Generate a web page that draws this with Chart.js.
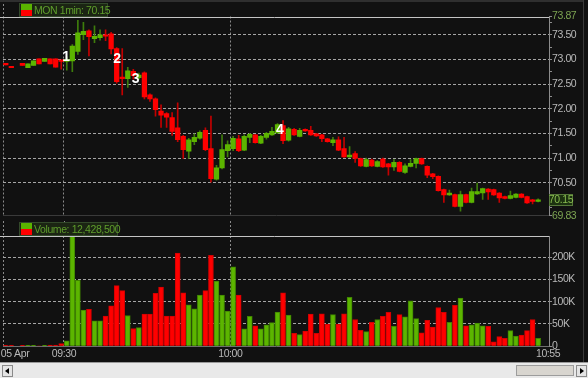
<!DOCTYPE html>
<html><head><meta charset="utf-8">
<script src="https://cdn.jsdelivr.net/npm/chart.js@4.4.1/dist/chart.umd.min.js"></script>
<style>
html,body{margin:0;padding:0;background:#111;}
#wrap{position:relative;width:588px;height:378px;overflow:hidden;background:#111;font-family:"Liberation Sans",Arial,sans-serif;}
canvas{position:absolute;left:0;}
#pc{top:0;}
#vc{top:221px;}
.leg{position:absolute;height:12px;background:#1b2513;border:1px solid #33492a;color:#5f9e2c;font-size:10.5px;letter-spacing:-0.4px;line-height:12px;white-space:nowrap;}
.leg i{position:absolute;left:1px;top:0;width:11px;height:12px;background:linear-gradient(#5ab400 0,#5ab400 50%,#ff0000 50%,#ff0000 100%);}
.leg span{position:absolute;left:14px;top:0;}
#topline{position:absolute;left:0;top:0;width:584px;height:2px;background:#2f2f2f;}
#rightline{position:absolute;left:583px;top:0;width:1px;height:362px;background:#3a3a3a;}
#track{position:absolute;left:0;top:362px;width:588px;height:16px;background:#e9e9e9;border-top:1px solid #9a9a9a;box-sizing:border-box;}
.btn{position:absolute;top:365px;width:9px;height:10px;background:#e4e4e4;border:1px solid #8a8a8a;}
#lb{left:2px;}
#rb{left:576px;}
.btn b{position:absolute;top:2px;width:0;height:0;border-top:3px solid transparent;border-bottom:3px solid transparent;}
#lb b{left:2px;border-right:4px solid #000;}
#rb b{left:3px;border-left:4px solid #000;}
#thumb{position:absolute;left:516px;top:365px;width:56px;height:9px;background:#d8d5cf;border:1px solid #9c9c9c;}
</style></head>
<body>
<div id="wrap">
  <canvas id="pc" width="588" height="222"></canvas>
  <canvas id="vc" width="588" height="141"></canvas>
  <div id="topline"></div>
  <div id="rightline"></div>
  <div class="leg" id="pleg" style="left:19px;top:3px;width:87px;"><i></i><span id="plegt"></span></div>
  <div class="leg" id="vleg" style="left:19px;top:222px;width:97px;"><i></i><span id="vlegt"></span></div>
  <div id="track"></div>
  <div class="btn" id="lb"><b></b></div>
  <div id="thumb"></div>
  <div class="btn" id="rb"><b></b></div>
</div>
<script>
// ---------------- DATA ----------------
const symbol = 'MON';
const interval = '1min';
const totalVolumeText = '12,428,500';
const times = [
 '09:19','09:20','09:21','09:22','09:23','09:24','09:25','09:26','09:27','09:28','09:29',
 '09:30','09:31','09:32','09:33','09:34','09:35','09:36','09:37','09:38','09:39',
 '09:40','09:41','09:42','09:43','09:44','09:45','09:46','09:47','09:48','09:49',
 '09:50','09:51','09:52','09:53','09:54','09:55','09:56','09:57','09:58','09:59',
 '10:00','10:01','10:02','10:03','10:04','10:05','10:06','10:07','10:08','10:09',
 '10:10','10:11','10:12','10:13','10:14','10:15','10:16','10:17','10:18','10:19',
 '10:20','10:21','10:22','10:23','10:24','10:25','10:26','10:27','10:28','10:29',
 '10:30','10:31','10:32','10:33','10:34','10:35','10:36','10:37','10:38','10:39',
 '10:40','10:41','10:42','10:43','10:44','10:45','10:46','10:47','10:48','10:49',
 '10:50','10:51','10:52','10:53','10:54','10:55'
];
const opens = [
 72.90,72.84,null,72.92,72.83,72.88,73.01,72.96,73.01,73.01,72.97,
 72.96,72.97,73.16,73.50,73.58,73.42,73.44,73.49,73.52,73.22,
 72.63,72.61,72.76,72.63,72.73,72.28,72.20,71.95,71.90,71.82,
 71.61,71.44,71.14,71.33,71.40,71.56,71.19,70.57,70.80,71.15,
 71.19,71.39,71.16,71.42,71.47,71.30,71.42,71.47,71.51,71.66,
 71.36,71.58,71.44,71.58,71.56,71.49,71.47,71.39,71.31,71.37,
 71.19,71.02,71.09,70.99,70.83,70.96,70.83,70.98,70.88,70.82,
 70.91,70.71,70.83,70.89,70.99,70.83,70.68,70.63,70.36,70.25,
 70.26,70.02,70.26,70.10,70.27,70.29,70.37,70.36,70.29,70.22,
 70.18,70.20,70.27,70.22,70.15,70.12
];
const highs = [
 72.90,72.84,null,72.92,72.91,72.97,73.01,73.02,73.01,73.01,72.98,
 73.05,73.30,73.79,73.75,73.60,73.68,73.60,73.60,73.55,73.24,
 73.22,72.84,72.80,72.72,72.75,72.30,72.22,72.08,71.92,71.92,
 72.12,71.46,71.40,71.49,71.55,71.61,71.85,70.85,71.47,71.35,
 71.44,71.46,71.47,71.50,71.48,71.46,71.52,71.62,71.70,71.76,
 71.62,71.60,71.60,71.59,71.64,71.50,71.48,71.40,71.42,71.43,
 71.42,71.23,71.13,71.00,71.00,70.98,70.95,71.00,70.89,70.97,
 70.93,70.88,70.97,71.00,71.00,70.84,70.69,70.64,70.37,70.35,
 70.27,70.33,70.27,70.39,70.49,70.39,70.38,70.37,70.30,70.23,
 70.33,70.28,70.28,70.23,70.16,70.17
];
const lows = [
 72.89,72.83,null,72.88,72.83,72.88,72.91,72.96,72.91,72.84,72.80,
 72.78,72.75,73.10,73.40,73.07,73.34,73.39,73.38,73.11,72.52,
 72.28,72.43,72.60,72.60,72.20,72.15,71.85,71.62,71.62,71.46,
 71.33,70.99,70.99,71.27,71.38,71.15,70.51,70.55,70.78,71.02,
 71.15,71.13,71.15,71.31,71.30,71.29,71.38,71.46,71.50,71.29,
 71.34,71.46,71.43,71.54,71.46,71.44,71.33,71.32,71.25,71.15,
 71.01,71.01,70.91,70.83,70.82,70.83,70.82,70.81,70.65,70.75,
 70.72,70.69,70.82,70.80,70.87,70.60,70.58,70.33,70.10,70.24,
 70.01,69.92,70.09,70.09,70.26,70.16,70.16,70.24,70.10,70.17,
 70.17,70.19,70.19,70.08,70.07,70.11
];
const closes = [
 72.89,72.83,null,72.88,72.91,72.97,72.91,73.02,72.91,72.84,72.96,
 73.00,73.27,73.54,73.57,73.46,73.47,73.50,73.47,73.21,72.55,
 72.61,72.77,72.67,72.68,72.24,72.20,71.98,71.87,71.83,71.54,
 71.37,71.17,71.37,71.42,71.52,71.17,70.58,70.80,71.17,71.27,
 71.40,71.15,71.44,71.48,71.31,71.44,71.50,71.54,71.68,71.35,
 71.59,71.47,71.56,71.55,71.47,71.45,71.39,71.33,71.37,71.16,
 71.02,71.06,70.99,70.84,70.97,70.84,70.93,70.82,70.82,70.91,
 70.73,70.84,70.89,70.99,70.88,70.65,70.62,70.34,70.25,70.29,
 70.02,70.26,70.10,70.32,70.32,70.38,70.31,70.25,70.19,70.18,
 70.24,70.27,70.20,70.09,70.12,70.15
];
const volumes = [
 2000,2000,null,2000,2000,2000,1000,2000,3000,3000,6000,
 12000,260000,148000,81000,83000,57000,57000,68000,91000,136000,
 125000,69000,40000,42000,72000,72000,119000,133000,68000,68000,
 209000,120000,93000,84000,115000,125000,204000,146000,115000,79000,
 178000,115000,39000,67000,46000,39000,48000,53000,77000,120000,
 70000,29000,26000,34000,72000,29000,73000,50000,71000,50000,
 73000,110000,60000,36000,33000,54000,60000,67000,76000,45000,
 71000,66000,102000,62000,30000,58000,43000,87000,76000,54000,
 92000,108000,46000,48000,52000,46000,45000,10000,22000,18000,
 35000,23000,25000,35000,60000,18000
];
const priceTicks = [69.83,70.00,70.25,70.50,70.75,71.00,71.25,71.50,71.75,72.00,72.25,72.50,72.75,73.00,73.25,73.50,73.75,73.87];
const priceTickLabels = ['69.83','','','70.50','','71.00','','71.50','','72.00','','72.50','','73.00','','73.50','','73.87'];
const volumeTicks = [0,50000,100000,150000,200000];
const volumeTickLabels = ['0','50K','100K','150K','200K'];
const timeTickLabels = ['05 Apr','09:30','10:00','10:55'];
const markerLabels = ['1','2','3','4'];
const markerPrices = [73.05,73.00,72.59,71.56];

// ---------------- LAYOUT / STYLE ----------------
const GREEN='#5cb500', RED='#ff0000', GREEN_W='#3e7d0c', RED_W='#c40000';
const GREEN_B='#3f8500', RED_B='#d20000';
const TXT='#b9b9b9', TXT_G='#7ca452';
const HGRID='#a6a6a6', VGRID='#8a8a8a';
const FONT='"Liberation Sans",Arial,sans-serif';
const X_MIN=19, X_MAX=117.46;
const gridMinutes=[19,30,60];
const timeTickPos=[21.16,30,60,117.3];
const markerPos=[30.4,39.6,42.93,68.95];

const toMin = t => { const [h,m]=t.split(':').map(Number); return (h-9)*60+m; };
const xs = times.map(t => toMin(t)+0.5);
const up = i => closes[i] >= opens[i];

document.getElementById('plegt').textContent = symbol+' '+interval+': '+closes[closes.length-1].toFixed(2);
document.getElementById('vlegt').textContent = 'Volume: '+totalVolumeText;

Chart.defaults.font.family = FONT;
Chart.defaults.font.size = 10.5;

const bodies = xs.map((x,i)=>({x, y: opens[i]==null?null:[opens[i], closes[i]]}));
const wicks = xs.map((x,i)=>({x, y: lows[i]==null?null:[lows[i], highs[i]]}));
const vols = xs.map((x,i)=>({x, y: volumes[i]}));

const tightText = {
  id:'tightText',
  beforeDraw(chart){ try{ chart.ctx.letterSpacing='-0.4px'; }catch(e){} },
  afterDraw(chart){ try{ chart.ctx.letterSpacing='0px'; }catch(e){} }
};

const topLine = {
  id:'topLine',
  afterDraw(chart){
    const {ctx, chartArea} = chart;
    ctx.save();
    ctx.strokeStyle='#c4c4c4'; ctx.lineWidth=1;
    const y=Math.round(chartArea.top)+0.5;
    ctx.beginPath(); ctx.moveTo(0,y); ctx.lineTo(chartArea.right,y); ctx.stroke();
    ctx.restore();
  }
};

const priceExtras = {
  id:'priceExtras',
  beforeDatasetsDraw(chart){
    const {ctx, chartArea, scales:{x}} = chart;
    ctx.save(); ctx.strokeStyle=VGRID; ctx.lineWidth=1; ctx.setLineDash([2,2]);
    const px=Math.round(x.getPixelForValue(gridMinutes[0]))+0.5;
    ctx.beginPath(); ctx.moveTo(px,0); ctx.lineTo(px,chartArea.top); ctx.stroke();
    ctx.restore();
  },
  afterDraw(chart){
    const {ctx, chartArea, scales:{x,y}} = chart;
    ctx.save();
    try{ ctx.letterSpacing='0px'; }catch(e){}
    ctx.fillStyle='#ffffff'; ctx.font='bold 14px "Liberation Sans",Arial,sans-serif';
    ctx.textAlign='center'; ctx.textBaseline='middle';
    markerLabels.forEach((t,i)=>ctx.fillText(t, x.getPixelForValue(markerPos[i]), y.getPixelForValue(markerPrices[i])));
    const last = closes[closes.length-1];
    const yy = Math.round(y.getPixelForValue(last));
    const x0 = Math.round(chartArea.right);
    ctx.fillStyle='#1c3210'; ctx.fillRect(x0, yy-6, 24, 12);
    ctx.strokeStyle='#56783a'; ctx.lineWidth=1; ctx.strokeRect(x0+0.5, yy-5.5, 23, 11);
    try{ ctx.letterSpacing='-0.4px'; }catch(e){}
    ctx.fillStyle='#88bb50'; ctx.font='10.5px '+FONT; ctx.textAlign='center';
    ctx.fillText(last.toFixed(2), x0+12, yy+0.5);
    ctx.restore();
  }
};

const gapLines = {
  id:'gapLines',
  beforeDatasetsDraw(chart){
    const {ctx, chartArea, scales:{x}} = chart;
    ctx.save(); ctx.strokeStyle=VGRID; ctx.lineWidth=1; ctx.setLineDash([2,2]);
    gridMinutes.forEach(v=>{
      const px=Math.round(x.getPixelForValue(v))+0.5;
      ctx.beginPath(); ctx.moveTo(px,0); ctx.lineTo(px,chartArea.top); ctx.stroke();
    });
    ctx.restore();
  }
};

const isGridMinute = v => gridMinutes.some(g=>Math.abs(g-v)<1e-6);

new Chart(document.getElementById('pc'), {
  type:'bar',
  data:{ datasets:[
    { data:wicks, order:2, grouped:false, barThickness:1,
      backgroundColor: xs.map((_,i)=>up(i)?GREEN_W:RED_W) },
    { data:bodies, order:1, grouped:false, barThickness:4.6, minBarLength:1.5,
      backgroundColor: xs.map((_,i)=>up(i)?GREEN:RED) }
  ]},
  options:{
    responsive:false, animation:false, devicePixelRatio:1, events:[],
    layout:{ padding:{ top:16.5, left:3, right:0, bottom:0 } },
    plugins:{ legend:{display:false}, tooltip:{enabled:false} },
    scales:{
      x:{ type:'linear', min:X_MIN, max:X_MAX, offset:false,
        afterBuildTicks: s => { s.ticks = gridMinutes.map(v=>({value:v})); },
        afterFit: s => { s.height = 1.5; },
        ticks:{ display:false },
        grid:{ drawTicks:false, offset:false, color: c => VGRID, lineWidth:1 },
        border:{ display:true, color:'#3a3a3a', dash:[2,2] }
      },
      y:{ position:'right', min:priceTicks[0], max:priceTicks[priceTicks.length-1],
        afterBuildTicks: s => { s.ticks = priceTicks.map(v=>({value:v})); },
        afterFit: s => { s.width = 39; },
        ticks:{ padding:0, autoSkip:false,
          callback:(v,i)=>priceTickLabels[i],
          color: c => (c.index===0 || c.index===priceTicks.length-1) ? TXT_G : TXT },
        grid:{ drawTicks:true, tickLength:3, tickColor:'#8c8c8c',
          color: c => (priceTickLabels[c.index] && c.index>0 && c.index<priceTicks.length-1) ? HGRID : 'transparent' },
        border:{ display:true, color:'#8c8c8c', dash:[3,2] }
      }
    }
  },
  plugins:[tightText, topLine, priceExtras]
});

new Chart(document.getElementById('vc'), {
  type:'bar',
  data:{ datasets:[
    { data:vols, grouped:false, barThickness:5, borderWidth:1,
      backgroundColor: xs.map((_,i)=>up(i)?GREEN:RED),
      borderColor: xs.map((_,i)=>up(i)?GREEN_B:RED_B) }
  ]},
  options:{
    responsive:false, animation:false, devicePixelRatio:1, events:[],
    layout:{ padding:{ top:15, left:3, right:0, bottom:0 } },
    plugins:{ legend:{display:false}, tooltip:{enabled:false} },
    scales:{
      x:{ type:'linear', min:X_MIN, max:X_MAX, offset:false,
        afterBuildTicks: s => { s.ticks = gridMinutes.concat(timeTickPos).sort((a,b)=>a-b).filter((v,i,a)=>a.indexOf(v)===i).map(v=>({value:v})); },
        afterFit: s => { s.height = 15.7; },
        ticks:{ autoSkip:false, maxRotation:0, padding:2, color:TXT,
          callback: v => { const k = timeTickPos.findIndex(p=>Math.abs(p-v)<1e-6); return k<0?'':timeTickLabels[k]; } },
        grid:{ drawTicks:false, offset:false, color: c => (c.tick && isGridMinute(c.tick.value)) ? VGRID : 'transparent' },
        border:{ display:true, color:'#6e6e6e', dash:[2,2] }
      },
      y:{ position:'right', min:0, max:247300,
        afterBuildTicks: s => { s.ticks = volumeTicks.map(v=>({value:v})); },
        afterFit: s => { s.width = 39; },
        ticks:{ padding:0, autoSkip:false, color:TXT, callback:(v,i)=>volumeTickLabels[i] },
        grid:{ drawTicks:true, tickLength:3, tickColor:'#8c8c8c',
          color: c => c.index>0 ? HGRID : 'transparent' },
        border:{ display:true, color:'#8c8c8c', dash:[3,2] }
      }
    }
  },
  plugins:[tightText, topLine, gapLines]
});
</script>
</body></html>
